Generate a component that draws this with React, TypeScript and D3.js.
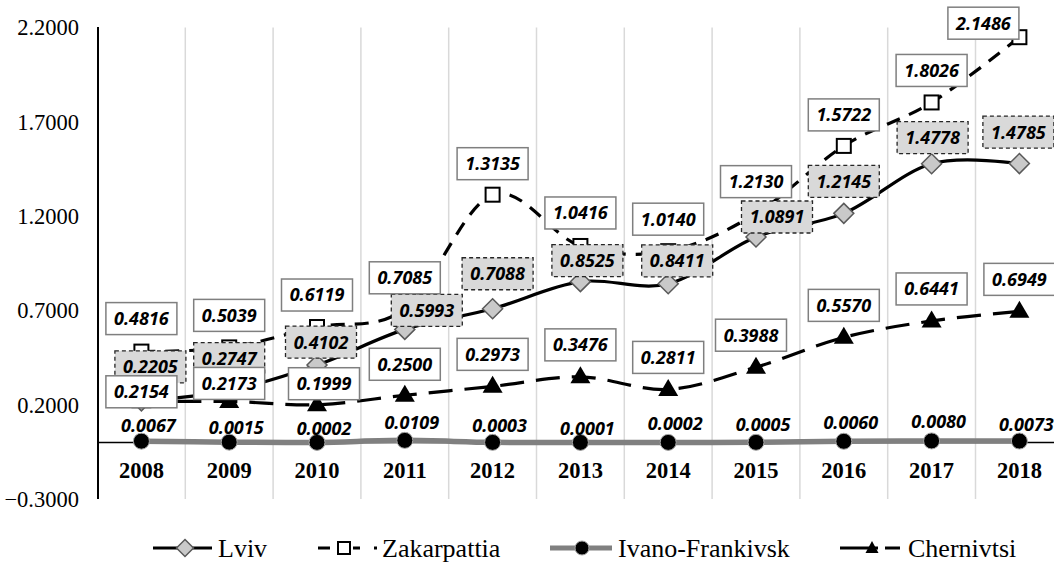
import React from "react";
import * as d3 from "d3";

const years = ["2008","2009","2010","2011","2012","2013","2014","2015","2016","2017","2018"];
const lviv = [0.2205,0.2747,0.4102,0.5993,0.7088,0.8525,0.8411,1.0891,1.2145,1.4778,1.4785];
const zakarpattia = [0.4816,0.5039,0.6119,0.7085,1.3135,1.0416,1.0140,1.2130,1.5722,1.8026,2.1486];
const ivano = [0.0067,0.0015,0.0002,0.0109,0.0003,0.0001,0.0002,0.0005,0.0060,0.0080,0.0073];
const chernivtsi = [0.2154,0.2173,0.1999,0.2500,0.2973,0.3476,0.2811,0.3988,0.5570,0.6441,0.6949];
const yTicks = [-0.3,0.2,0.7,1.2,1.7,2.2];
const seriesNames = ["Lviv","Zakarpattia","Ivano-Frankivsk","Chernivtsi"];

// label offsets (layout only)
const lvivOff = [[9,-34],[0,-32],[4,-23],[22,-19],[5,-35],[7,-21],[9,-23],[21,-20],[0,-32],[1,-26],[-1,-31.5]];
const zakOff = [[0,-33],[0,-32],[0,-32],[0,-31],[0,-31],[0,-33],[0,-32],[0,-32],[0,-31],[0,-32],[-36,-14]];
const ivaOff = [[7,-16],[7,-15],[7,-14],[7,-17.5],[7,-16.5],[7,-14],[7,-19],[7,-18],[7,-18.5],[7,-19],[7,-17]];
const chOff = [[0,-10],[0,-18],[7,-21],[0,-31],[0,-32],[0,-32],[0,-32],[-5,-32],[0,-32],[0,-32],[0,-32]];

const W = 1054, H = 563;
const band = 87.8;
const x0 = 97.5;
const x = d3.scaleBand().domain(years).range([x0, x0 + band * years.length]).padding(0);
const y = d3.scaleLinear().domain([-0.3, 2.2]).range([499, 27.5]);
const cx = (i: number) => (x(years[i]) as number) + x.bandwidth() / 2;

const lineGen = d3.line<number>().x((_, i) => cx(i)).y((d) => y(d)).curve(d3.curveCardinal.tension(0));

const labelFont = "Open Sans";
const serifFont = "Liberation Serif";
const fmt = d3.format(".4f");

function Diamond({ px, py, r = 10 }: { px: number; py: number; r?: number }) {
  return <path d={`M${px},${py - r}L${px + r},${py}L${px},${py + r}L${px - r},${py}Z`} fill="#c9c9c9" stroke="#595959" strokeWidth={1.5} />;
}
function Square({ px, py, s = 14 }: { px: number; py: number; s?: number }) {
  return <rect x={px - s / 2} y={py - s / 2} width={s} height={s} fill="#fff" stroke="#000" strokeWidth={2} />;
}
function Tri({ px, py, w = 20, h = 17 }: { px: number; py: number; w?: number; h?: number }) {
  return <path d={`M${px},${py - h / 2 - 2}L${px + w / 2},${py + h / 2 - 2}L${px - w / 2},${py + h / 2 - 2}Z`} fill="#000" />;
}
function Dot({ px, py, r = 8 }: { px: number; py: number; r?: number }) {
  return <circle cx={px} cy={py} r={r} fill="#000" stroke="#a6a6a6" strokeWidth={1} />;
}

function BoxLabel({ px, py, text, kind }: { px: number; py: number; text: string; kind: "white" | "gray" }) {
  const bw = 71, bh = 32;
  return (
    <g>
      <rect x={px - bw / 2} y={py - bh / 2} width={bw} height={bh}
        fill={kind === "gray" ? "#d9d9d9" : "#fff"}
        stroke={kind === "gray" ? "#262626" : "#7f7f7f"}
        strokeWidth={kind === "gray" ? 1.3 : 1.5}
        strokeDasharray={kind === "gray" ? "4 3" : undefined} />
      <text x={px} y={py} dy="0.36em" textAnchor="middle" fontFamily={labelFont} fontWeight="bold" fontStyle="italic" fontSize={18} fill="#000">{text}</text>
    </g>
  );
}

export default function App() {
  const xEnd = x0 + band * years.length;
  return (
    <svg width={W} height={H} style={{ position: "absolute", left: 0, top: 0, background: "#fff" }}>
      <rect width={W} height={H} fill="#fff" />
      {/* gridlines */}
      {years.slice(1).map((yr) => (
        <line key={yr} x1={x(yr) as number} x2={x(yr) as number} y1={27.5} y2={499} stroke="#d9d9d9" strokeWidth={1.5} />
      ))}
      {/* y axis */}
      <line x1={98} x2={98} y1={27} y2={499} stroke="#000" strokeWidth={2} />
      {yTicks.map((t) => (
        <text key={t} x={79} y={y(t)} dy="0.35em" textAnchor="end" fontFamily={serifFont} fontSize={22.5} fill="#000">{fmt(t)}</text>
      ))}
      {/* x axis */}
      <line x1={98} x2={Math.min(xEnd, W)} y1={y(0)} y2={y(0)} stroke="#000" strokeWidth={1.5} />
      {years.map((yr, i) => (
        <text key={yr} x={cx(i)} y={470} dy="0.35em" textAnchor="middle" fontFamily={serifFont} fontWeight="bold" fontSize={22.5} fill="#000">{yr}</text>
      ))}

      {/* Lviv */}
      <path d={lineGen(lviv) || ""} fill="none" stroke="#000" strokeWidth={3.2} />
      {lviv.map((v, i) => <Diamond key={i} px={cx(i)} py={y(v)} />)}
      {/* Zakarpattia */}
      <path d={lineGen(zakarpattia) || ""} fill="none" stroke="#000" strokeWidth={3.2} strokeDasharray="14 10" />
      {zakarpattia.map((v, i) => <Square key={i} px={cx(i)} py={y(v)} />)}
      {/* Ivano */}
      <path d={lineGen(ivano) || ""} fill="none" stroke="#808080" strokeWidth={5.5} />
      {ivano.map((v, i) => <Dot key={i} px={cx(i)} py={y(v)} />)}
      {/* Chernivtsi */}
      <path d={lineGen(chernivtsi) || ""} fill="none" stroke="#000" strokeWidth={3.2} strokeDasharray="24 12" />
      {chernivtsi.map((v, i) => <Tri key={i} px={cx(i)} py={y(v)} />)}

      {/* labels */}
      {lviv.map((v, i) => <BoxLabel key={"l" + i} px={cx(i) + lvivOff[i][0]} py={y(v) + lvivOff[i][1]} text={fmt(v)} kind="gray" />)}
      {zakarpattia.map((v, i) => <BoxLabel key={"z" + i} px={cx(i) + zakOff[i][0]} py={y(v) + zakOff[i][1]} text={fmt(v)} kind="white" />)}
      {ivano.map((v, i) => (
        <text key={"i" + i} x={cx(i) + ivaOff[i][0]} y={y(v) + ivaOff[i][1]} dy="0.36em" textAnchor="middle" fontFamily={labelFont} fontWeight="bold" fontStyle="italic" fontSize={18} fill="#000">{fmt(v)}</text>
      ))}
      {chernivtsi.map((v, i) => <BoxLabel key={"c" + i} px={cx(i) + chOff[i][0]} py={y(v) + chOff[i][1]} text={fmt(v)} kind="white" />)}

      {/* legend */}
      <g>
        <line x1={153} x2={212} y1={548} y2={548} stroke="#000" strokeWidth={3} />
        <Diamond px={185} py={548} r={8.5} />
        <text x={218} y={548} dy="0.33em" fontFamily={serifFont} fontSize={26} fill="#000">{seriesNames[0]}</text>

        <line x1={318} x2={377} y1={548} y2={548} stroke="#000" strokeWidth={3} strokeDasharray="12 23 7 14 3 100" />
        <Square px={344} py={548} s={12} />
        <text x={382} y={548} dy="0.33em" fontFamily={serifFont} fontSize={26} fill="#000">{seriesNames[1]}</text>

        <line x1={550} x2={612} y1={548} y2={548} stroke="#808080" strokeWidth={5} />
        <Dot px={582} py={548} r={7} />
        <text x={618} y={548} dy="0.33em" fontFamily={serifFont} fontSize={26} fill="#000">{seriesNames[2]}</text>

        <line x1={840} x2={900} y1={548} y2={548} stroke="#000" strokeWidth={3} strokeDasharray="38 7 15" />
        <Tri px={872} py={549} w={13} h={12} />
        <text x={908} y={548} dy="0.33em" fontFamily={serifFont} fontSize={26} fill="#000">{seriesNames[3]}</text>
      </g>
    </svg>
  );
}
